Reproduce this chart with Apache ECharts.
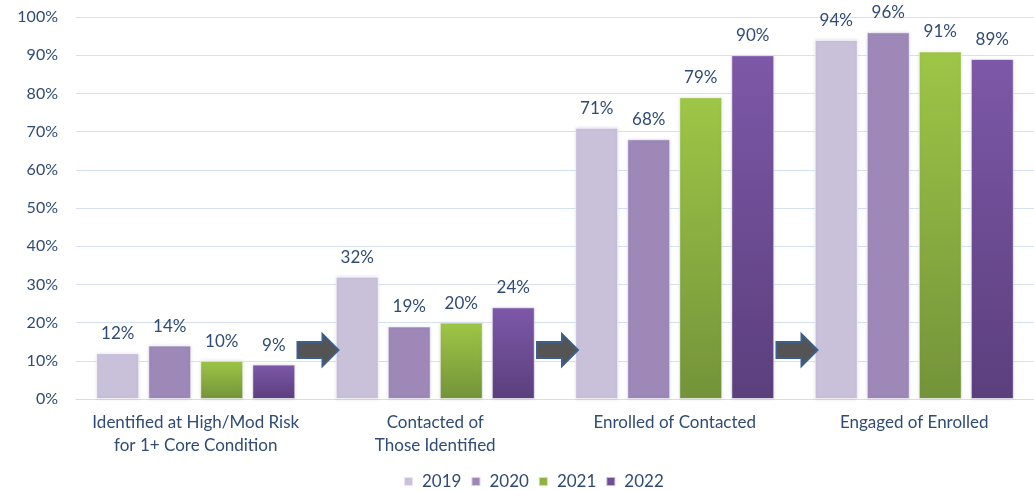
<!DOCTYPE html>
<html>
<head>
<meta charset="utf-8">
<script src="https://cdn.jsdelivr.net/npm/echarts@6/dist/echarts.min.js"></script>
<style>
  html, body { margin: 0; padding: 0; background: #fff; }
  #chart { width: 1034px; height: 490px; }
</style>
</head>
<body>
<div id="chart"></div>
<script>
// Funnel stages and yearly percentages
const categories = [
  'Identified at High/Mod Risk\nfor 1+ Core Condition',
  'Contacted of\nThose Identified',
  'Enrolled of Contacted',
  'Engaged of Enrolled'
];
const years = ['2019', '2020', '2021', '2022'];
const values2019 = [12, 32, 71, 94];
const values2020 = [14, 19, 68, 96];
const values2021 = [10, 20, 79, 91];
const values2022 = [9, 24, 90, 89];
const yTicks = [0, 10, 20, 30, 40, 50, 60, 70, 80, 90, 100];

// Height (in %) at which the flow arrows sit between stages
const arrowLevel = 12.8;

const textColor = '#2F4B76';
const fontFamily = 'Lato, "Open Sans", sans-serif';

function grad(top, bottom) {
  return new echarts.graphic.LinearGradient(0, 0, 0, 1, [
    { offset: 0, color: top },
    { offset: 1, color: bottom }
  ]);
}

const fills = [
  '#C9C0DA',
  '#9D88B8',
  grad('#9EC646', '#74933A'),
  grad('#7D58A8', '#5B3F7D')
];
const legendColors = ['#C9C0DA', '#9D88B8', '#8DB340', '#6E4E96'];
const seriesValues = [values2019, values2020, values2021, values2022];

const chart = echarts.init(document.getElementById('chart'), null, { renderer: 'canvas' });

const option = {
  animation: false,
  textStyle: { fontFamily: fontFamily },
  grid: { left: 76, right: -2, top: 17, bottom: 91, containLabel: false },
  legend: {
    bottom: -5,
    left: 398,
    itemWidth: 9,
    itemHeight: 9,
    itemGap: 9,
    icon: 'rect',
    textStyle: { color: textColor, fontSize: 17, fontFamily: fontFamily, padding: [0, 0, 0, 4] },
    data: years.map((y, i) => ({ name: y, itemStyle: { color: legendColors[i] } }))
  },
  xAxis: {
    type: 'category',
    data: categories,
    axisTick: { show: false },
    axisLine: { lineStyle: { color: '#D3DEEE', width: 1 } },
    axisLabel: {
      color: textColor,
      fontSize: 17,
      lineHeight: 23,
      margin: 12,
      interval: 0,
      fontFamily: fontFamily
    }
  },
  yAxis: {
    type: 'value',
    min: yTicks[0],
    max: yTicks[yTicks.length - 1],
    interval: 10,
    axisLine: { show: false },
    axisTick: { show: false },
    splitLine: { lineStyle: { color: '#D6E2F1', width: 1 } },
    axisLabel: {
      color: textColor,
      fontSize: 16,
      margin: 18,
      formatter: v => v + '%',
      fontFamily: fontFamily
    }
  },
  series: years.map((y, i) => ({
    name: y,
    type: 'bar',
    data: seriesValues[i],
    barWidth: 43,
    barGap: '21%',
    barCategoryGap: '16%',
    itemStyle: {
      color: fills[i],
      borderColor: 'rgba(255,255,255,0.6)',
      borderWidth: 1,
      shadowColor: 'rgba(120,130,160,0.25)',
      shadowBlur: 3
    },
    label: {
      show: true,
      position: 'top',
      distance: 11,
      formatter: p => p.value + '%',
      color: textColor,
      fontSize: 17,
      fontFamily: fontFamily
    }
  }))
};

chart.setOption(option);

// Flow arrows centred on the boundaries between stages
function drawArrows() {
  const graphics = [];
  for (let k = 1; k < categories.length; k++) {
    const left = chart.convertToPixel({ xAxisIndex: 0 }, categories[k - 1]);
    const right = chart.convertToPixel({ xAxisIndex: 0 }, categories[k]);
    const cx = (left + right) / 2 + 3;
    const cy = chart.convertToPixel({ yAxisIndex: 0 }, arrowLevel);
    const x0 = cx - 21, xs = cx + 4, x1 = cx + 20;
    graphics.push({
      type: 'polygon',
      z: 10,
      shape: {
        points: [
          [x0, cy - 8], [xs, cy - 8], [xs, cy - 16], [x1, cy],
          [xs, cy + 16], [xs, cy + 8], [x0, cy + 8]
        ]
      },
      style: { fill: '#545454', stroke: '#3B5F8E', lineWidth: 2 }
    });
  }
  chart.setOption({ graphic: graphics });
}
drawArrows();
</script>
</body>
</html>
